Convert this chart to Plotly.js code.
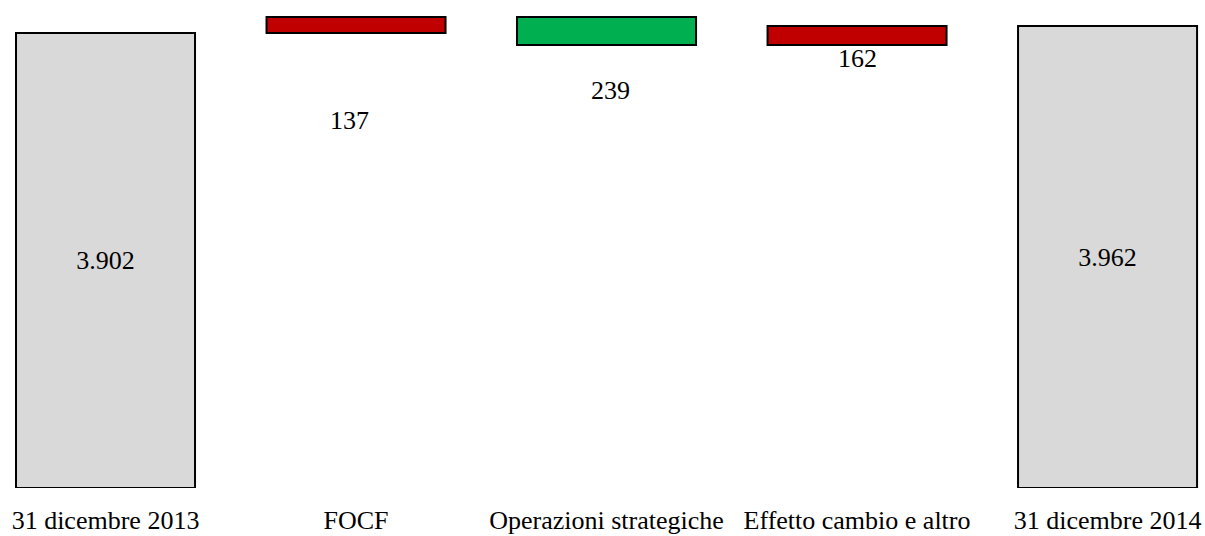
<!DOCTYPE html>
<html>
<head>
<meta charset="utf-8">
<script src="https://cdn.plot.ly/plotly-3.0.1.min.js"></script>
<style>html,body{margin:0;padding:0;background:#fff;}#chart{width:1205px;height:536px;}</style>
</head>
<body>
<div id="chart"></div>
<script>
// Data
const categories = ["31 dicembre 2013", "FOCF", "Operazioni strategiche", "Effetto cambio e altro", "31 dicembre 2014"];
const startValue = 3902;
const changes = [137, -239, 162];          // FOCF, Operazioni strategiche, Effetto cambio e altro
const endValue = 3962;
const changeLabels = [137, 239, 162];
const changeLabelY = [3155, 3413, 3680];  // estimated label positions in value units

function fmt(v) {
  return String(Math.abs(v)).replace(/\B(?=(\d{3})+(?!\d))/g, ".");
}

const xIdx = categories.map((c, i) => i);
const bases = [0];
const heights = [startValue];
const colors = ["#D9D9D9"];
let running = startValue;
changes.forEach(d => {
  bases.push(Math.min(running, running + d));
  heights.push(Math.abs(d));
  colors.push(d > 0 ? "#C00000" : "#00B050");
  running += d;
});
bases.push(0);
heights.push(endValue);
colors.push("#D9D9D9");

const texts = heights.map((h, i) => (i === 0 || i === heights.length - 1) ? fmt(h) : "");

const font = {family: "'Liberation Serif', 'Times New Roman', serif", size: 26, color: "#000"};
const labelShift = [-7, 4, 0];

const trace = {
  type: "bar",
  x: xIdx,
  y: heights,
  base: bases,
  width: 0.7146,
  marker: {color: colors, line: {color: "#000", width: 2}},
  text: texts,
  textposition: "inside",
  insidetextanchor: "middle",
  textfont: font,
  hoverinfo: "none"
};

const annotations = changeLabels.map((v, i) => ({
  x: i + 1, y: changeLabelY[i], xref: "x", yref: "y", xshift: labelShift[i],
  text: fmt(v), showarrow: false, font: font, yanchor: "middle", xanchor: "center"
}));

const layout = {
  width: 1205, height: 536,
  margin: {l: 0, r: 0, t: 0, b: 48},
  paper_bgcolor: "#fff", plot_bgcolor: "#fff",
  showlegend: false,
  font: font,
  xaxis: {
    range: [-0.4212, 4.389],
    tickvals: xIdx, ticktext: categories,
    showgrid: false, zeroline: false, showline: false, ticks: "",
    tickfont: font, ticklabelstandoff: 14, fixedrange: true
  },
  yaxis: {
    range: [0, 4185], visible: false, showgrid: false, zeroline: false, fixedrange: true
  },
  annotations: annotations
};

Plotly.newPlot("chart", [trace], layout, {displayModeBar: false, staticPlot: true});
</script>
</body>
</html>
